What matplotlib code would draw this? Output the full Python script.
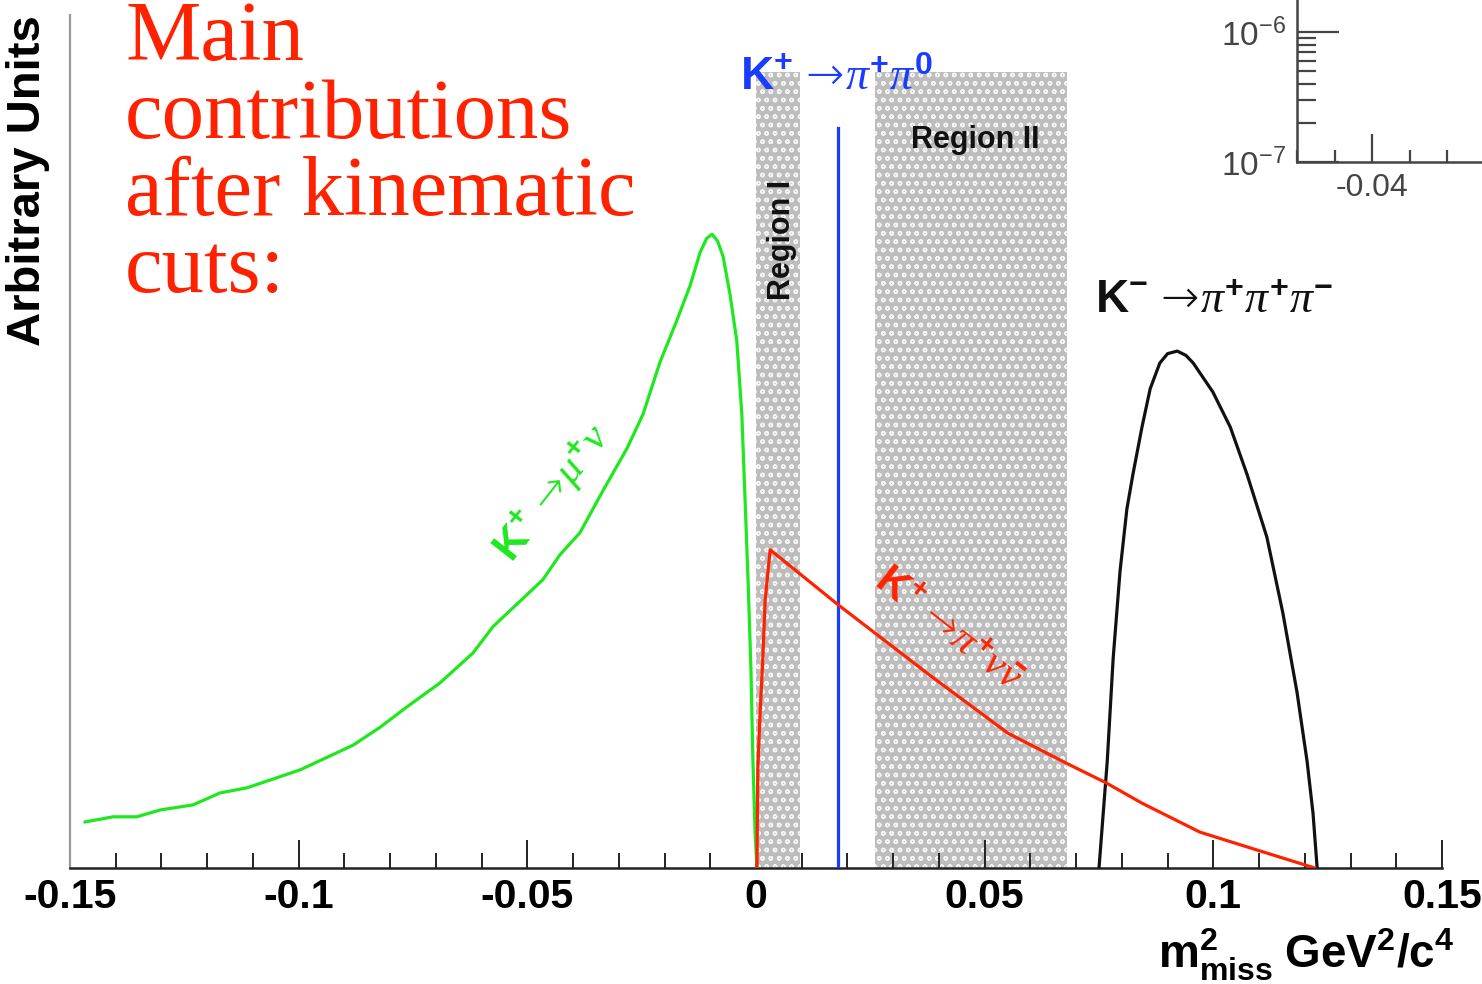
import numpy as np
import matplotlib
matplotlib.use('Agg')
import matplotlib.pyplot as plt
from matplotlib import rcParams
from matplotlib.ticker import MultipleLocator, LogLocator, NullFormatter

rcParams.update({
    'font.family': 'Liberation Sans',
    'font.weight': 'bold',
    'mathtext.fontset': 'custom',
    'mathtext.rm': 'Liberation Sans:bold',
    'mathtext.bf': 'Liberation Sans:bold',
    'mathtext.it': 'Liberation Serif:style=italic:weight=normal',
    'mathtext.sf': 'DejaVu Sans:weight=light',
    'hatch.linewidth': 1.0,
})

# K+ -> mu+ nu
mu_x = [-0.1467, -0.1406, -0.1354, -0.1303, -0.1231, -0.1172, -0.1113, -0.0997,
        -0.0881, -0.0822, -0.0763, -0.0691, -0.0619, -0.0575, -0.0466, -0.0429,
        -0.0385, -0.0335, -0.0282, -0.0247, -0.0210, -0.0173, -0.0144, -0.0122,
        -0.0108, -0.0096, -0.0084, -0.0072, -0.0057, -0.0042, -0.0031, -0.0024,
        -0.0017, -0.0011, -0.0007, -0.0002, 0.0002]
mu_y = [0.054, 0.060, 0.060, 0.068, 0.074, 0.088, 0.094, 0.115,
        0.144, 0.165, 0.189, 0.217, 0.252, 0.283, 0.338, 0.367,
        0.393, 0.442, 0.492, 0.532, 0.593, 0.642, 0.683, 0.722,
        0.738, 0.743, 0.735, 0.717, 0.673, 0.618, 0.532, 0.433,
        0.332, 0.232, 0.131, 0.042, 0.0]

# K+ -> pi+ nu nubar
nn_x = [0.0002, 0.0004, 0.0009, 0.0015, 0.0020, 0.0031, 0.0181, 0.0385,
        0.0551, 0.0678, 0.0765, 0.0844, 0.0971, 0.1096, 0.1222]
nn_y = [0.0, 0.117, 0.182, 0.247, 0.314, 0.373, 0.308, 0.224,
        0.158, 0.123, 0.100, 0.076, 0.042, 0.021, 0.0]

# K -> pi pi pi
k3_x = [0.0750, 0.0768, 0.0781, 0.0796, 0.0811, 0.0824, 0.0844, 0.0862,
        0.0883, 0.0900, 0.0921, 0.0940, 0.0956, 0.0999, 0.1037, 0.1074,
        0.1117, 0.1152, 0.1183, 0.1205, 0.1218, 0.1227]
k3_y = [0.0, 0.125, 0.246, 0.348, 0.421, 0.461, 0.517, 0.562,
        0.592, 0.603, 0.606, 0.601, 0.592, 0.558, 0.517, 0.461,
        0.388, 0.299, 0.206, 0.125, 0.064, 0.0]

# K+ -> pi+ pi0 peak
pi0_x = 0.018
pi0_top = 0.868

regions = [(0.0, 0.0096), (0.026, 0.068)]
region_top = 0.933

W, H = 1482, 984
fig = plt.figure(figsize=(W / 100, H / 100), dpi=100)
ax = fig.add_axes([70 / W, 1 - 868 / H, 1372 / W, 853 / H])

for x0, x1 in regions:
    ax.fill_between([x0, x1], 0, region_top, facecolor='#bdbdbd', lw=0, zorder=1)
    ax.fill_between([x0, x1], 0, region_top, facecolor='none', hatch='oo',
                    edgecolor='#f4f4f4', lw=0, zorder=1)

ax.plot(mu_x, mu_y, color='#1fe81f', lw=2.3, zorder=3)
ax.plot(nn_x, nn_y, color='#ff2200', lw=2.3, zorder=4)
ax.plot(k3_x, k3_y, color='#111111', lw=2.3, zorder=3)
ax.plot([pi0_x, pi0_x], [0, pi0_top], color='#1a3cff', lw=2.3, zorder=3)

ax.set_xlim(-0.15, 0.15)
ax.set_ylim(0, 1)
ax.set_xticks([-0.15, -0.1, -0.05, 0, 0.05, 0.1, 0.15])
ax.set_xticklabels(['-0.15', '-0.1', '-0.05', '0', '0.05', '0.1', '0.15'])
ax.xaxis.set_minor_locator(MultipleLocator(0.01))
ax.tick_params(axis='x', which='major', direction='in', length=20, width=1.4,
               color='#222222', labelsize=29.5, pad=7)
ax.tick_params(axis='x', which='minor', direction='in', length=11, width=1.4,
               color='#222222')
ax.set_yticks([])
for s in ['top', 'right']:
    ax.spines[s].set_visible(False)
ax.spines['bottom'].set_color('#222222')
ax.spines['bottom'].set_linewidth(1.8)
ax.spines['left'].set_color('#999999')
ax.spines['left'].set_linewidth(1.6)

ARROW = r'\,\mathsf{\rightarrow}\!'

# labels inside the plot
ax.text(-0.0035, 0.912, r'$\mathrm{K^{+}}' + ARROW + r'\pi^{+}\pi^{0}$',
        color='#1a3cff', fontsize=33, ha='left', va='baseline', zorder=6)
ax.text(0.0057, 0.736, 'Region I', rotation=90, fontsize=22, ha='center',
        va='center', color='#111111', zorder=6)
ax.text(0.0479, 0.853, 'Region II', fontsize=22, ha='center', va='center',
        color='#111111', zorder=6)
ax.text(0.0741, 0.651, r'$\mathrm{K^{-}}' + ARROW + r'\pi^{+}\pi^{+}\pi^{-}$',
        color='#111111', fontsize=33, ha='left', va='baseline', zorder=6)
ax.text(-0.0445, 0.440, r'$\mathrm{K^{+}}' + ARROW + r'\mu^{+}\nu$',
        color='#1fe81f', fontsize=31, rotation=52, ha='center', va='center',
        rotation_mode='anchor', zorder=6)
ax.text(0.0420, 0.280, r'$\mathrm{K^{+}}' + ARROW + r'\pi^{+}\nu\bar{\nu}$',
        color='#ff2200', fontsize=30, rotation=-38, ha='center', va='center',
        rotation_mode='anchor', zorder=6)

# red title lines
title_lines = ['Main', 'contributions', 'after kinematic', 'cuts:']
baselines = [60, 138, 215, 292]
for line, b in zip(title_lines, baselines):
    fig.text(125 / W, 1 - b / H, line, color='#ff2200', fontsize=61,
             family='Liberation Serif', weight='normal', ha='left', va='baseline')

fig.text(28 / W, 1 - 15 / H, 'Arbitrary Units', rotation=90, fontsize=34,
         ha='center', va='top')
fig.text(1455 / W, 1 - 955 / H,
         r'$\mathrm{m^{2}_{miss}\ GeV^{2}/c^{4}}$', fontsize=33,
         ha='right', va='center')

# inset (cut by the figure edge)
ins = fig.add_axes([1297 / W, 1 - 162 / H, 375 / W, 240 / H])
ins.set_yscale('log')
ins.set_xlim(-0.05, 0.0)
ins.set_ylim(1e-7, 10 ** (-7 + 240 / 130))
ins.set_xticks([-0.04, -0.02])
ins.set_xticklabels(['-0.04', '-0.02'])
ins.xaxis.set_minor_locator(MultipleLocator(0.005))
ins.yaxis.set_major_locator(LogLocator(base=10, numticks=5))
ins.yaxis.set_minor_locator(LogLocator(base=10, subs=np.arange(2, 10), numticks=20))
ins.yaxis.set_minor_formatter(NullFormatter())
ins.tick_params(axis='y', which='major', direction='in', length=30, width=1.6,
                color='#444444', labelsize=24, labelcolor='#444444', pad=8)
ins.tick_params(axis='y', which='minor', direction='in', length=14, width=1.6,
                color='#444444')
ins.tick_params(axis='x', which='major', direction='in', length=20, width=1.6,
                color='#444444', labelsize=23, labelcolor='#444444', pad=8)
ins.tick_params(axis='x', which='minor', direction='in', length=9, width=1.6,
                color='#444444')
for lab in ins.get_xticklabels() + ins.get_yticklabels():
    lab.set_fontweight('normal')
for s in ['top', 'right']:
    ins.spines[s].set_visible(False)
for s in ['left', 'bottom']:
    ins.spines[s].set_color('#444444')
    ins.spines[s].set_linewidth(1.8)

fig.savefig('out.png', dpi=100)
